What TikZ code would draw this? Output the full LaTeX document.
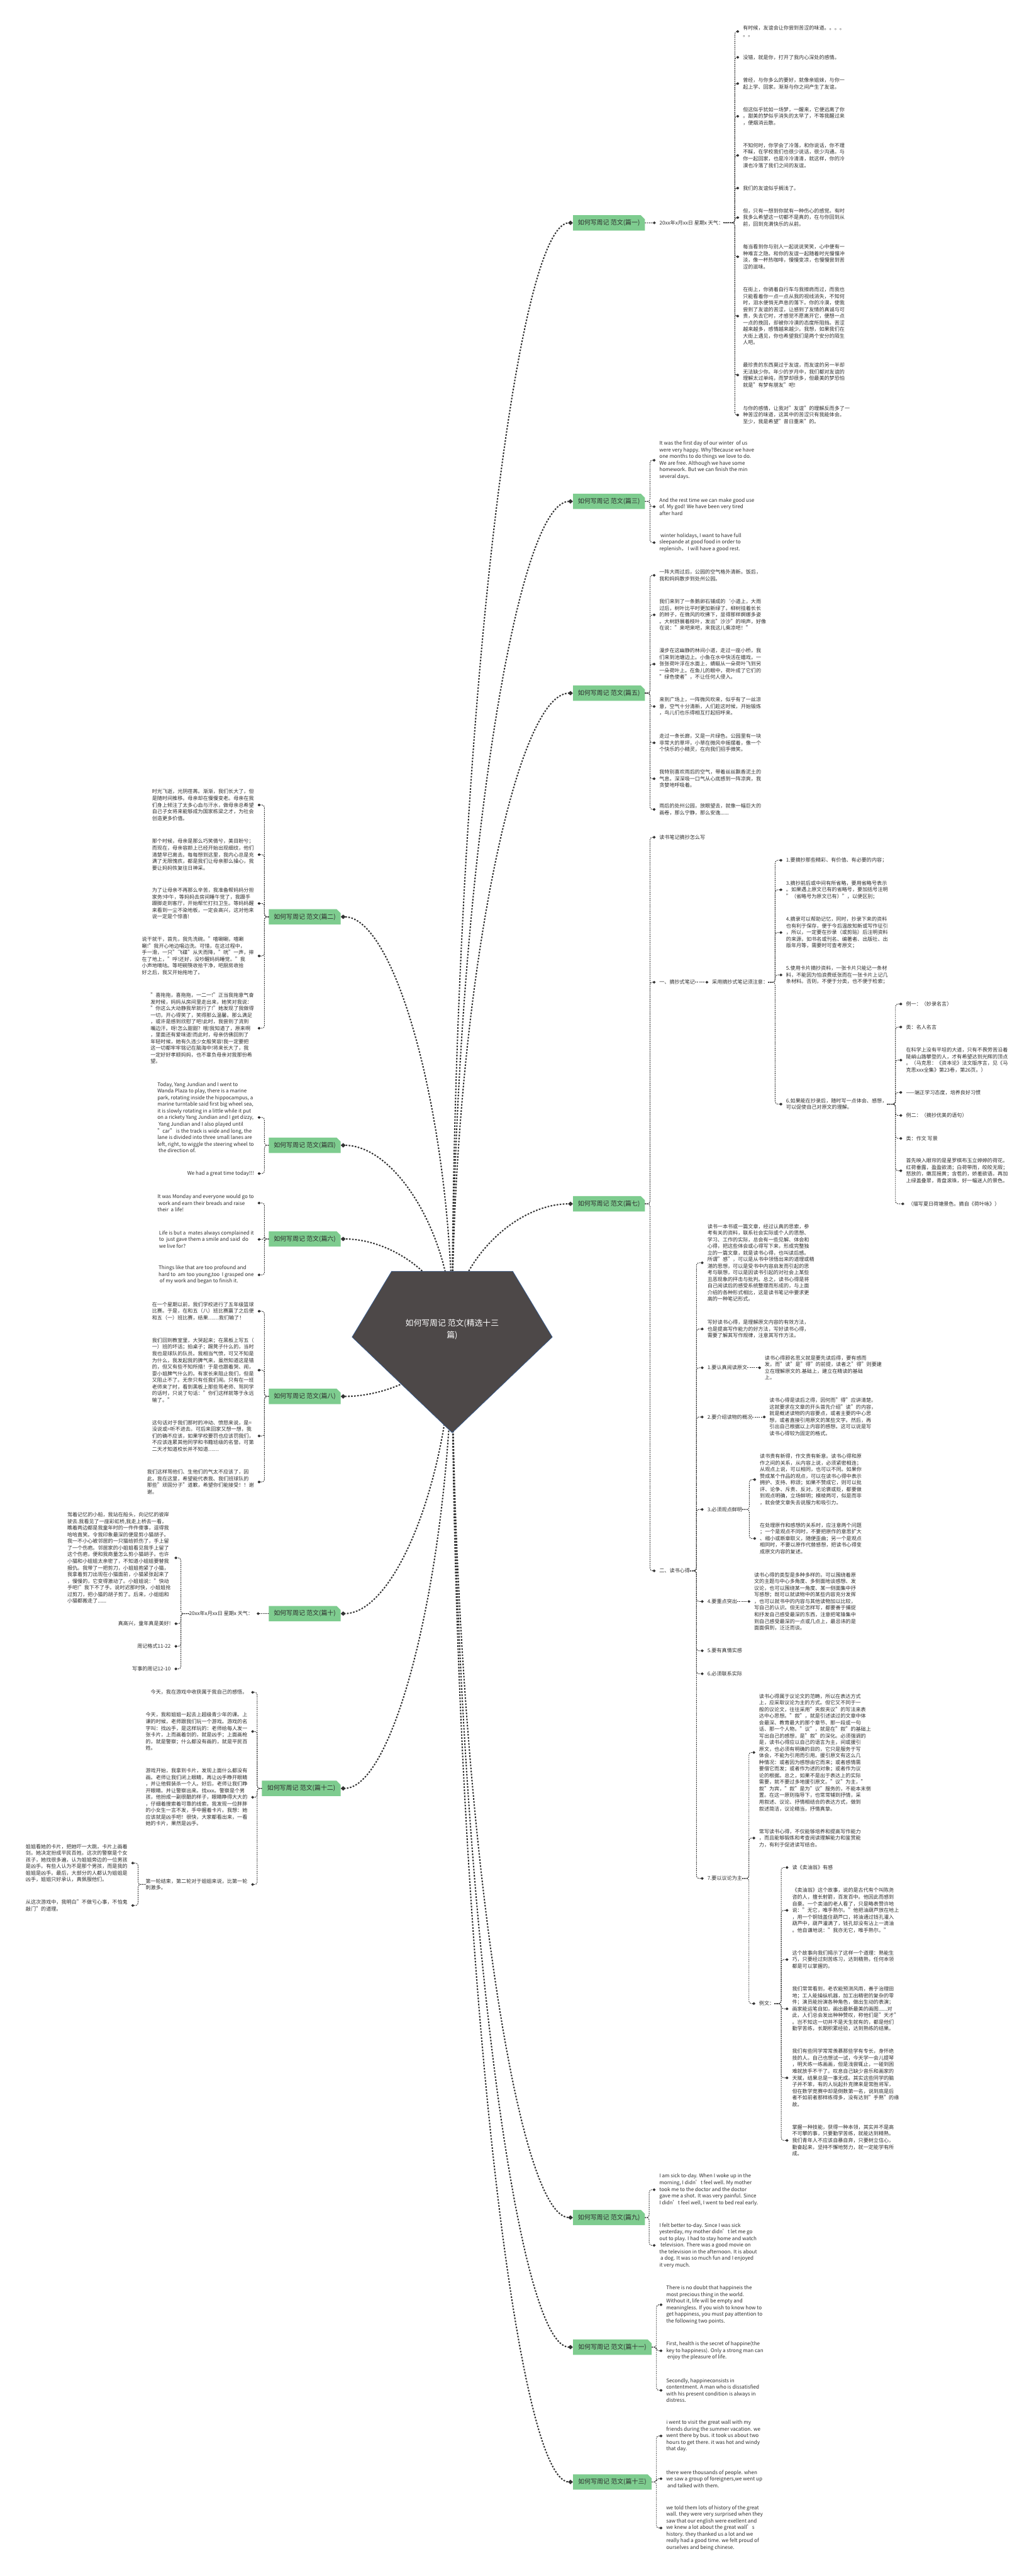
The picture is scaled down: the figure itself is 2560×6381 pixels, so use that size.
\documentclass[tikz,border=0pt]{standalone}
\usepackage{fontspec}
\setmainfont{Noto Sans CJK SC}
\usetikzlibrary{arrows.meta,positioning,shapes.misc,backgrounds}
\definecolor{brgreen}{RGB}{126,204,143}
\definecolor{rootfill}{RGB}{77,72,72}
\definecolor{rootbdr}{RGB}{50,92,150}
\definecolor{inkclr}{RGB}{45,45,45}
\definecolor{linkclr}{RGB}{50,50,50}
\tikzset{
  %% centre title text
  roottxt/.style={text=white,font=\fontsize{20}{29}\selectfont,align=center,inner sep=0pt},
  %% green branch box with cut corner
  brbox/.style={chamfered rectangle,chamfered rectangle corners=north east,
    chamfered rectangle sep=5pt,fill=brgreen,minimum width=178pt,minimum height=38pt,
    font=\fontsize{15.5}{18}\selectfont,text=inkclr,inner xsep=6pt,inner ysep=4pt},
  widebox/.style={brbox,minimum width=195pt},
  %% leaf text (right / left of its parent)
  lf/.style={anchor=west,align=left,font=\fontsize{12.6}{16.4}\selectfont,text=inkclr,inner sep=0pt},
  lfl/.style={lf,anchor=east},
  %% connectors
  limb/.style={-{Diamond[length=12pt,width=11pt]},line width=3.2pt,color=linkclr,
    dash pattern=on 4pt off 3.6pt},
  twig/.style={-{Diamond[length=7.5pt,width=7pt]},line width=1.5pt,color=linkclr,
    dash pattern=on 3pt off 2.2pt,rounded corners=6pt,shorten >=9pt},
}
\begin{document}
\begin{tikzpicture}[x=1pt,y=-1pt]
  \useasboundingbox (0,0) rectangle (2560,6381);

  %% centre
  \node[roottxt] (root) at (1120,3293) {如何写周记 范文(精选十三\\篇)};

  %% ── branch boxes ──────────────────────────────────────────────
  \node[brbox,anchor=west] (p1)  at (1419,552)  {如何写周记 范文(篇一)};
  \node[brbox,anchor=west] (p3)  at (1419,1242) {如何写周记 范文(篇三)};
  \node[brbox,anchor=west] (p5)  at (1419,1717) {如何写周记 范文(篇五)};
  \node[brbox,anchor=west] (p7)  at (1419,2982) {如何写周记 范文(篇七)};
  \node[brbox,anchor=west] (p9)  at (1419,5493) {如何写周记 范文(篇九)};
  \node[widebox,anchor=west] (p11) at (1419,5814) {如何写周记 范文(篇十一)};
  \node[widebox,anchor=west] (p13) at (1419,6148) {如何写周记 范文(篇十三)};

  \node[brbox,anchor=east] (p2)  at (844,2271) {如何写周记 范文(篇二)};
  \node[brbox,anchor=east] (p4)  at (844,2837) {如何写周记 范文(篇四)};
  \node[brbox,anchor=east] (p6)  at (844,3069) {如何写周记 范文(篇六)};
  \node[brbox,anchor=east] (p8)  at (844,3459) {如何写周记 范文(篇八)};
  \node[brbox,anchor=east] (p10) at (844,3997) {如何写周记 范文(篇十)};
  \node[widebox,anchor=east] (p12) at (844,4430) {如何写周记 范文(篇十二)};

  %% ── 篇一 ──
  \node[lf,right=36pt of p1] (p1d) {20xx年x月xx日 星期x 天气：};
  \coordinate (j1) at (1820,552);
  \node[lf] (p1x1) at (1840,78) {有时候，友谊会让你尝到苦涩的味道。。。。\\。。};
  \node[lf] (p1x2) at (1840,142) {没错，就是你，打开了我内心深处的感情。};
  \node[lf] (p1x3) at (1840,207) {曾经，与你多么的要好，就像亲姐妹，与你一\\起上学、回家。渐渐与你之间产生了友谊。};
  \node[lf] (p1x4) at (1840,288) {但这似乎犹如一场梦，一醒来，它便远离了你\\。甜美的梦似乎消失的太早了，不等我醒过来\\，便烟消云散。};
  \node[lf] (p1x5) at (1840,385) {不知何时，你学会了冷落，和你说话，你不理\\不睬，在学校我们也很少说话，很少沟通。与\\你一起回家，也是冷冷清清，就这样，你的冷\\漠也冷落了我们之间的友谊。};
  \node[lf] (p1x6) at (1840,466) {我们的友谊似乎搁浅了。};
  \node[lf] (p1x7) at (1840,539) {但，只有一想到你就有一种伤心的感觉。有时\\我多么希望这一切都不是真的，在与你回到从\\前，回到充满快乐的从前。};
  \node[lf] (p1x8) at (1840,636) {每当看到你与别人一起说说笑笑，心中便有一\\种难言之隐。和你的友谊一起随着时光慢慢冲\\淡，像一杯热咖啡，慢慢变凉，也慢慢尝到苦\\涩的滋味。};
  \node[lf] (p1x9) at (1840,783) {在街上，你骑着自行车与我擦肩而过，而我也\\只能看着你一点一点从我的视线消失，不知何\\时，泪水便悄无声息的落下。你的冷漠，使我\\尝到了友谊的苦涩，让感到了友情的真诚与可\\贵，失去它时，才感觉不愿离开它，便想一点\\一点的挽回，却被你冷漠的态度所阻挡。苦涩\\越来越多，感情越来越少。我想，如果我们在\\大街上遇见，你也希望我们是两个安分的陌生\\人吧。};
  \node[lf] (p1x10) at (1840,929) {最珍贵的东西莫过于友谊，而友谊的另一半却\\无法缺少你。年少的岁月中，我们都对友谊的\\理解太过单纯，而梦却很多，但最美的梦恐怕\\就是"有梦有朋友"吧!};
  \node[lf] (p1x11) at (1840,1028) {与你的感情，让我对"友谊"的理解反而多了一\\种苦涩的味道，这其中的苦涩只有我能体会。\\至少，我是希望"昔日重来"的。};

  %% ── 篇三 ──
  \coordinate (j3) at (1610,1242);
  \node[lf] (p3x1) at (1633,1140) {It was the first day of our winter\ \ of us\\were very happy. Why?Because we have\\one months to do things we love to do.\\We are free. Although we have some\\homework. But we can finish the min\\several days.};
  \node[lf] (p3x2) at (1633,1255) {And the rest time we can make good use\\of. My god! We have been very tired\\after hard};
  \node[lf] (p3x3) at (1633,1344) {\ winter holidays, I want to have full\\sleepande at good food in order to\\replenish， I will have a good rest.};

  %% ── 篇五 ──
  \coordinate (j5) at (1610,1717);
  \node[lf] (p5x1) at (1633,1425) {一阵大雨过后，公园的空气格外清新。饭后，\\我和妈妈散步到处州公园。};
  \node[lf] (p5x2) at (1633,1523) {我们来到了一条鹅卵石铺成的`小道上，大雨\\过后，树叶比平时更加新绿了。柳树挂着长长\\的辫子，在微风的吹拂下，显得那样婀娜多姿\\。大树舒展着枝叶，发出"沙沙"的响声，好像\\在说："来吧来吧，来我这儿乘凉吧！"};
  \node[lf] (p5x3) at (1633,1645) {漫步在这幽静的林间小道，走过一座小桥，我\\们来到池塘边上。小鱼在水中快活在嬉戏，一\\张张荷叶浮在水面上，蜻蜓从一朵荷叶飞到另\\一朵荷叶上。在鱼儿的眼中，荷叶成了它们的\\"绿色使者"，不让任何人侵入。};
  \node[lf] (p5x4) at (1633,1750) {来到广场上，一阵微风吹来，似乎有了一丝凉\\意，空气十分清新，人们趁这时候，开始锻炼\\，鸟儿们也乐得相互打起招呼来。};
  \node[lf] (p5x5) at (1633,1840) {走过一条长廊，又是一片绿色。公园里有一块\\非常大的草坪，小草在微风中摇摆着，像一个\\个快乐的小精灵，在向我们招手微笑。};
  \node[lf] (p5x6) at (1633,1929) {我特别喜欢雨后的空气，带着丝丝飘香泥土的\\气息。深深吸一口气从心底感到一阵凉爽，我\\贪婪地呼吸着。};
  \node[lf] (p5x7) at (1633,2005) {雨后的处州公园，放眼望去，就像一幅巨大的\\画卷，那么宁静，那么安逸......};

  %% ── 篇七 ──
  \coordinate (j7) at (1610,2982);
  \node[lf] (p7a) at (1633,2074) {读书笔记摘抄怎么写};
  \node[lf] (p7b) at (1633,2433) {一、摘抄式笔记};
  \node[lf] (p7c) at (1633,3891) {二、读书心得};

  \node[lf,right=42pt of p7b] (p7note) {采用摘抄式笔记须注意：};
  \coordinate (j7b) at (1920,2433);
  \node[lf] (p7n1) at (1947,2131) {1.要摘抄那些精彩、有价值、有必要的内容；};
  \node[lf] (p7n2) at (1947,2204) {3.摘抄前后或中间有所省略，要用省略号表示\\。如果遇上原文已有的省略号，要加括号注明\\"（省略号为原文已有）"，以便区别；};
  \node[lf] (p7n3) at (1947,2310) {4.摘录可以帮助记忆，同时，抄录下来的资料\\也有利于保存，便于今后温故知新或写作征引\\，所以，一定要在抄录（或剪贴）后注明资料\\的来源，如书名或刊名、编著者、出版社、出\\版年月等，需要时可查考原文；};
  \node[lf] (p7n4) at (1947,2415) {5.使用卡片摘抄资料，一张卡片只能记一条材\\料，不能因为怕浪费纸张而在一张卡片上记几\\条材料。否则，不便于分类，也不便于检索；};
  \node[lf] (p7n5) at (1947,2735) {6.如果能在抄录后，随时写一点体会、感想，\\可以促使自己对原文的理解。};

  \coordinate (j7n) at (2218,2735);
  \node[lf] (p7e1) at (2244,2487) {例一：（妙录名言）};
  \node[lf] (p7e2) at (2244,2544) {类：名人名言};
  \node[lf] (p7e3) at (2244,2626) {在科学上没有平坦的大道，只有不畏劳苦沿着\\陡峭山路攀登的人，才有希望达到光辉的顶点\\。（马克思：《资本论》法文版序言，见《马\\克思xxx全集》第23卷，第26页。）};
  \node[lf] (p7e4) at (2244,2706) {——端正学习态度，培养良好习惯};
  \node[lf] (p7e5) at (2244,2763) {例二：（摘抄优美的语句）};
  \node[lf] (p7e6) at (2244,2820) {类：作文 写景};
  \node[lf] (p7e7) at (2244,2900) {首先映入眼帘的是星罗棋布玉立婷婷的荷花。\\红荷垂露，盈盈欲滴；白荷带雨，皎皎无瑕；\\怒放的，嫩蕊摇黄；含苞的，娇羞欲语。再加\\上绿盖叠翠，青盘滚珠，好一幅迷人的景色。};
  \node[lf] (p7e8) at (2249,2982) {（描写夏日荷塘景色。摘自《荷叶咏》）};

  \coordinate (j7c) at (1725,3891);
  \node[lf] (p7r1) at (1752,3128) {读书一本书或一篇文章，经过认真的思索，参\\考有关的资料，联系社会实际或个人的思想、\\学习、工作的实际，总会有一些见解、体会和\\心得，把这些体会或心得写下来，形成完整独\\立的一篇文章，就是读书心得，也叫读后感。\\所谓"感"，可以是从书中领悟出来的道理或精\\湛的思想，可以是受书中内容启发而引起的思\\考与联想，可以是因读书引起的对社会上某些\\丑恶现象的抨击与批判。总之，读书心得是将\\自己阅读后的感受系统整理而形成的，与上面\\介绍的各种形式相比，这是读书笔记中要求更\\高的一种笔记形式。};
  \node[lf] (p7r2) at (1752,3292) {写好读书心得，是理解原文内容的有效方法，\\也是提高写作能力的好方法，写好读书心得，\\需要了解其写作规律，注意其写作方法。};
  \node[lf] (p7r3) at (1752,3388) {1.要认真阅读原文};
  \node[lf] (p7r4) at (1752,3510) {2.要介绍读物的概况};
  \node[lf] (p7r5) at (1752,3739) {3.必须观点鲜明};
  \node[lf] (p7r6) at (1752,3967) {4.要重点突出};
  \node[lf] (p7r7) at (1752,4089) {5.要有真情实感};
  \node[lf] (p7r8) at (1752,4146) {6.必须联系实际};
  \node[lf] (p7r9) at (1752,4653) {7.要以议论为主};

  \node[lf,right=43pt of p7r3] (p7r3t) {读书心得顾名思义就是要先读后得，要有感而\\发。而"读"是"得"的前提，读者之"得"则要建\\立在理解原文的.基础上，建立在精读的基础\\上。};
  \node[lf,right=42pt of p7r4] (p7r4t) {读书心得是读后之得，因何而"得"应讲清楚。\\这就要求在文章的开头首先介绍"读"的内容，\\就是概述读物的内容要点，或者主要的中心思\\想，或者直接引用原文的某些文字。然后，再\\引出自己根据以上内容的感想。这可以说是写\\读书心得较为固定的格式。};
  \node[lf,right=42pt of p7r6] (p7r6t) {读书心得的类型是多种多样的。可以围绕着原\\文的主题与中心多角度、多侧面地谈感想、发\\议论，也可以围绕某一角度、某一侧面集中抒\\写感想；既可以就读物中的某些内容充分发挥\\，也可以就书中的内容与其他读物加以比较，\\写自己的认识。但无论怎样写，都要善于捕捉\\和抒发自己感受最深的东西，注意把笔锋集中\\到自己感受最深的一点或几点上，最忌讳的是\\面面俱到，泛泛而谈。};

  \coordinate (j7s) at (1856,3739);
  \node[lf] (p7s1) at (1882,3665) {读书贵有新得，作文贵有新意。读书心得和原\\作之间的关系，从内容上说，必须紧密相连；\\从观点上说，可以相同，也可以不同。如果你\\赞成某个作品的观点，可以在读书心得中表示\\拥护、支持、称颂；如果不赞成它，则可以批\\评、论争、斥责、反对。无论褒或贬，都要做\\到观点明确，立场鲜明；模棱两可，似是而非\\，就会使文章失去说服力和吸引力。};
  \node[lf] (p7s2) at (1882,3811) {在处理原作和感想的关系时，应注意两个问题\\；一个是观点不同时，不要把原作的意思扩大\\、缩小或断章取义，随便歪曲；另一个是观点\\相同时，不要以原作代替感想，把读书心得变\\成原文内容的复述。};

  \coordinate (j7m) at (1855,4653);
  \node[lf] (p7m1) at (1880,4341) {读书心得属于议论文的范畴，所以在表达方式\\上，应采取议论为主的方式。但它又不同于一\\般的议论文，往往采用"夹叙夹议"的写法来表\\达中心思想。"叙"，就是引述读过的文章中体\\会最深、教育最大的那个章节、那一段或一句\\话、那一个人物。"议"，就是在"叙"的基础上\\写出自己的感想，是"叙"的深化。必须强调的\\是，读书心得应以自己的语言为主，间或援引\\原文，也必须有明确的目的，它只是服务于写\\体会，不能为引用而引用。援引原文有这么几\\种情况：或者因为感想由它而来；或者感情需\\要借它而发；或者作为述的对象；或者作为议\\论的根据。总之，如果不是出于表达上的实际\\需要，就不要过多地援引原文。"议"为主，"\\叙"为宾，"叙"是为"议"服务的，不能本末倒\\置。在这一原则指导下，也常常辅到抒情，采\\用叙述、议论、抒情相结合的表达方式，做到\\叙述简洁，议论精当，抒情真挚。};
  \node[lf] (p7m2) at (1880,4553) {常写读书心得，不仅能够培养和提高写作能力\\，而且能够锻炼和考查阅读理解能力和鉴赏能\\力，有利于促进读写结合。};
  \node[lf] (p7m3) at (1880,4963) {例文：};

  \coordinate (j7w) at (1935,4963);
  \node[lf] (p7w1) at (1962,4626) {读《卖油翁》有感};
  \node[lf] (p7w2) at (1962,4732) {《卖油翁》这个故事，说的是古代有个叫陈尧\\咨的人，擅长射箭，百发百中。他因此而感到\\自豪。一个卖油的老人看了，只是略表赞许地\\说："无它，唯手熟尔。"他把油葫芦放在地上\\，用一个铜钱盖住葫芦口，将油通过钱孔灌入\\葫芦中，葫芦灌满了，钱孔却没有沾上一滴油\\。他自谦地说："我亦无它，唯手熟尔。"};
  \node[lf] (p7w3) at (1962,4854) {这个故事向我们揭示了这样一个道理：熟能生\\巧，只要经过刻苦练习，达到精熟，任何本领\\都是可以掌握的。};
  \node[lf] (p7w4) at (1962,4976) {我们常常看到，老农能预测风雨，善于治理田\\地；工人能操纵机器，加工出精密的复杂的零\\件；演员能扮演各种角色，做出生动的表演；\\画家能运笔自如，画出最新最美的画图......对\\此，人们总会发出种种赞叹，称他们是"天才"\\。岂不知这一切并不是天生就有的，都是他们\\勤学苦练，长期积累经验，达到熟练的结果。};
  \node[lf] (p7w5) at (1962,5147) {我们有些同学常常羡慕那些学有专长，身怀绝\\技的人。自己也想试一试，今天学一会儿提琴\\，明天练一练画画，但是浅尝辄止，一碰到困\\难就放手不干了。叹息自己缺少音乐和画家的\\天赋，结果总是一事无成。其实这些同学的脑\\子并不笨，有的人玩起扑克牌来是常胜将军，\\但在数学竞赛中却是倒数第一名，说到底是后\\者不如前者那样练得多，没有达到"手熟"的缘\\故。};
  \node[lf] (p7w6) at (1962,5302) {掌握一种技能，获得一种本领，其实并不是高\\不可攀的事，只要勤学苦练，就能达到精熟。\\我们青年人不应该自暴自弃，只要树立信心，\\勤奋起来，坚持不懈地努力，就一定能学有所\\成。};

  %% ── 篇九 / 篇十一 / 篇十三 ──
  \coordinate (j9) at (1608,5493);
  \node[lf] (p9x1) at (1633,5424) {I am sick to-day. When I woke up in the\\morning, I didn't feel well. My mother\\took me to the doctor and the doctor\\gave me a shot. It was very painful. Since\\I didn't feel well, I went to bed real early.};
  \node[lf] (p9x2) at (1633,5562) {I felt better to-day. Since I was sick\\yesterday, my mother didn't let me go\\out to play. I had to stay home and watch\\\ television. There was a good movie on\\the television in the afternoon. It is about\\\ a dog. It was so much fun and I enjoyed\\it very much.};

  \coordinate (j11) at (1626,5814);
  \node[lf] (p11x1) at (1650,5709) {There is no doubt that happineis the\\most precious thing in the world.\\Without it, life will be empty and\\meaningless. If you wish to know how to\\get happiness, you must pay attention to\\the following two points.};
  \node[lf] (p11x2) at (1650,5823) {First, health is the secret of happine(the\\key to happiness). Only a strong man can\\\ enjoy the pleasure of life.};
  \node[lf] (p11x3) at (1650,5921) {Secondly, happineconsists in\\contentment. A man who is dissatisfied\\with his present condition is always in\\distress.};

  \coordinate (j13) at (1626,6148);
  \node[lf] (p13x1) at (1650,6034) {i went to visit the great wall with my\\friends during the summer vacation. we\\went there by bus. it took us about two\\hours to get there. it was hot and windy\\that day.};
  \node[lf] (p13x2) at (1650,6140) {there were thousands of people. when\\we saw a group of foreigners,we went up\\\ and talked with them.};
  \node[lf] (p13x3) at (1650,6262) {we told them lots of history of the great\\wall. they were very surprised when they\\saw that our english were exellent and\\we knew a lot about the great wall's\\history. they thanked us a lot and we\\really had a good time. we felt proud of\\ourselves and being chinese.};

  %% ── 篇二 ──
  \coordinate (j2) at (655,2271);
  \node[lfl] (p2x1) at (629,1994) {时光飞逝，光阴荏苒。渐渐，我们长大了，但\\是随时间推移。母亲却在慢慢变老。母亲在我\\们身上倾注了太多心血与汗水，做母亲总希望\\自己子女将来能够成为国家栋梁之才，为社会\\创造更多价值。};
  \node[lfl] (p2x2) at (629,2117) {那个时候，母亲是那么巧笑倩兮，美目盼兮；\\而现在，母亲容颜上已经开始出现细纹，他们\\清楚早已离去。每每想到这里，我内心总是充\\满了无限愧疚，都是我们让母亲那么操心，我\\要让妈妈恢复往日神采。};
  \node[lfl] (p2x3) at (629,2238) {为了让母亲不再那么辛苦，我准备帮妈妈分担\\家务!中午，等妈妈去房间睡午觉了，我蹑手\\蹑脚走到客厅，开始帮忙打扫卫生。等妈妈醒\\来看到一尘不染地板，一定会高兴，这对他来\\说一定是个惊喜!};
  \node[lfl] (p2x4) at (629,2368) {说干就干，首先，我先洗碗。"嘻唰唰，嘻唰\\唰!"我开心地边唱边洗。可惜，在这过程中，\\手一滑，一只"飞碟"从天而降，"咣"一声，摔\\在了地上，"呼!还好，没吵醒妈妈睡觉。"我\\小声地嘀咕。等吧碗筷收拾干净，吧厨房收拾\\好之后，我又开始拖地了。};
  \node[lfl] (p2x5) at (629,2547) {"喜拖拖，喜拖拖，一二一!"正当我拖意气奋\\发时候，妈妈从房间里走出来，她笑对我说：\\"你这么大动静我早就行了!"她发现了我做得\\一切，开心得笑了，笑得那么温馨。那么满足\\，或许是感到欣慰了吧!此时，我尝到了流到\\嘴边汗。呀!怎么甜甜？哦!我知道了，原来啊\\，里面还有爱味道!而此时，母亲仿佛回到了\\年轻时候，她有久违少女般笑容!我一定要把\\这一切都牢牢铭记在脑海中!将来长大了，我\\一定好好孝顺妈妈，也不辜负母亲对我那份希\\望。};

  %% ── 篇四 ──
  \coordinate (j4) at (655,2837);
  \node[lfl] (p4x1) at (629,2768) {Today, Yang Jundian and I went to\\Wanda Plaza to play, there is a marine\\park, rotating inside the hippocampus, a\\marine turntable said first big wheel sea,\\it is slowly rotating in a little while it put\\on a rickety Yang Jundian and I get dizzy,\\\ Yang Jundian and I also played until\\"car" is the track is wide and long, the\\lane is divided into three small lanes are\\left, right, to wiggle the steering wheel to\\\ the direction of.};
  \node[lfl] (p4x2) at (629,2907) {We had a great time today!!!};

  %% ── 篇六 ──
  \coordinate (j6) at (655,3069);
  \node[lfl] (p6x1) at (629,2980) {It was Monday and everyone would go to\\\ work and earn their breads and raise\\their\ \ a life!};
  \node[lfl] (p6x2) at (629,3070) {Life is but a\ \ mates always complained it\\to\ \ just gave them a smile and said\ \ do\\we live for?};
  \node[lfl] (p6x3) at (629,3158) {Things like that are too profound and\\hard to\ \ am too young,too\ \ I grasped one\\\ of my work and began to finish it.};

  %% ── 篇八 ──
  \coordinate (j8) at (655,3459);
  \node[lfl] (p8x1) at (629,3248) {在一个星期以前，我们学校进行了五年级篮球\\比赛。于是，在和五（八）班比赛赢了之后便\\和五（一）班比赛，结果……我们输了！};
  \node[lfl] (p8x2) at (629,3394) {我们回到教室里，大哭起来；在黑板上写五（\\一）班的坏话；拍桌子；踢凳子什么的，当时\\我也是球队的队员。我相当气愤，可又不知是\\为什么，我发起我的脾气来，虽然知道这是错\\的，但又有些不知所措！于是也跟着哭、闹，\\耍小姐脾气什么的。有家长来阻止我们，但是\\又阻止不了。无奈只有任我们闹。只有在一班\\老师来了时，看到黑板上那些骂老师、骂同学\\的话时，只说了句话："你们这样就等于永远\\输了。"};
  \node[lfl] (p8x3) at (629,3557) {这句话对于我们那时的冲动、愤怒来说，是=\\没说或=听不进去。可后来回家又想一想，我\\们的确不应该，如果学校要罚也应该罚我们，\\不应该连累其他同学和书籍班级的名誉。可第\\二天才知道校长并不知道……};
  \node[lfl] (p8x4) at (629,3671) {我们这样骂他们、生他们的气太不应该了，因\\此，我在这里，希望能代表我、我们班球队的\\那些"顽固分子"道歉，希望你们能接受！！谢\\谢。};

  %% ── 篇十 ──
  \node[lfl,left=39pt of p10] (p10d) {20xx年x月xx日 星期x 天气：};
  \coordinate (j10) at (448,3997);
  \node[lfl] (p10x1) at (423,3859) {驾着记忆的小船，我站在船头，向记忆的彼岸\\驶去.我看见了一座彩虹桥,我走上桥去一看，\\瞧着两边都是我童年时的一件件傻事，逗得我\\哈哈直笑。令我印象最深的便是剪小猫胡子。\\我一不小心被邻居的一只猫给抓伤了，手上留\\了一个伤疤。邻居家的小姐姐看见我手上留了\\这个伤疤，便和我商量怎么剪小猫胡子。也许\\小猫和小姐姐太亲密了，不知道小姐姐要替我\\报仇。我带了一把剪刀，小姐姐抱紧了小猫，\\我拿着剪刀出现在小猫面前，小猫紧张起来了\\，慢慢的，它变得激动了。小姐姐说："快动\\手吧!"我下不了手。说时迟那时快，小姐姐抢\\过剪刀，把小猫的胡子剪了。后来，小姐姐和\\小猫都搬走了......};
  \node[lfl] (p10x2) at (423,4022) {真高兴，童年真是美好!};
  \node[lfl] (p10x3) at (423,4078) {周记格式11-22};
  \node[lfl] (p10x4) at (423,4134) {写事的周记12-10};

  %% ── 篇十二 ──
  \coordinate (j12) at (637,4430);
  \node[lfl] (p12x1) at (613,4192) {今天，我在游戏中收获属于我自己的感悟。};
  \node[lfl] (p12x2) at (613,4289) {今天，我和姐姐一起去上超级青少年的课。上\\课的时候，老师跟我们玩一个游戏。游戏的名\\字叫：找凶手，是这样玩的：老师给每人发一\\张卡片，上而画着剑的，就是凶手；上面画枪\\的，就是警察；什么都没有画的，就是平民百\\姓。};
  \node[lfl] (p12x3) at (613,4452) {游戏开始，我拿到卡片，发现上面什么都没有\\画。老师让我们闭上眼睛，再让凶手睁开眼睛\\，并让他假装杀一个人。好后，老师让我们睁\\开眼睛。并让警察出来。找xxx。警察是个男\\孩，他扮成一副很酷的样子，眼睛睁得大大的\\，仔细着搜索着可靠的线索。我发现一位胖胖\\的小女生一言不发，手中握着卡片。我想：她\\应该就是凶手吧！很快，大家都看出来，一看\\她的卡片，果然是凶手。};
  \node[lfl] (p12x4) at (613,4668) {第一轮结束，第二轮对于姐姐来说，比第一轮\\刺激多。};
  \coordinate (j12b) at (342,4668);
  \node[lfl] (p12y1) at (316,4615) {姐姐看她的卡片，把她吓一大跳，卡片上画着\\剑。她决定扮成平民百姓。这次的警察是个女\\孩子，她找很多遍，认为姐姐旁边的一位男孩\\是凶手。有些人认为不是那个男孩，而是我的\\姐姐是凶手。最后，大部分的人都认为姐姐是\\凶手，姐姐只好承认，真佩服他们。};
  \node[lfl] (p12y2) at (316,4720) {从这次游戏中，我明白"不做亏心事，不怕鬼\\敲门"的道理。};

  %% ── twigs ─────────────────────────────────────────────────────
  \draw[twig] (p1) -- (p1d);
  \foreach \i in {1,...,11} \draw[twig] (p1d.east) -- (j1) |- (p1x\i.west);
  \foreach \i in {1,...,3} \draw[twig] (p3.east) -- (j3) |- (p3x\i.west);
  \foreach \i in {1,...,7} \draw[twig] (p5.east) -- (j5) |- (p5x\i.west);
  \foreach \c in {p7a,p7b,p7c} \draw[twig] (p7.east) -- (j7) |- (\c.west);
  \draw[twig] (p7b) -- (p7note);
  \foreach \i in {1,...,5} \draw[twig] (p7note.east) -- (j7b) |- (p7n\i.west);
  \foreach \i in {1,...,8} \draw[twig] (p7n5.east) -- (j7n) |- (p7e\i.west);
  \foreach \i in {1,...,9} \draw[twig] (p7c.east) -- (j7c) |- (p7r\i.west);
  \draw[twig] (p7r3) -- (p7r3t);
  \draw[twig] (p7r4) -- (p7r4t);
  \draw[twig] (p7r6) -- (p7r6t);
  \foreach \i in {1,2} \draw[twig] (p7r5.east) -- (j7s) |- (p7s\i.west);
  \foreach \i in {1,...,3} \draw[twig] (p7r9.east) -- (j7m) |- (p7m\i.west);
  \foreach \i in {1,...,6} \draw[twig] (p7m3.east) -- (j7w) |- (p7w\i.west);
  \foreach \i in {1,2} \draw[twig] (p9.east) -- (j9) |- (p9x\i.west);
  \foreach \i in {1,...,3} \draw[twig] (p11.east) -- (j11) |- (p11x\i.west);
  \foreach \i in {1,...,3} \draw[twig] (p13.east) -- (j13) |- (p13x\i.west);

  \foreach \i in {1,...,5} \draw[twig] (p2.west) -- (j2) |- (p2x\i.east);
  \foreach \i in {1,2} \draw[twig] (p4.west) -- (j4) |- (p4x\i.east);
  \foreach \i in {1,...,3} \draw[twig] (p6.west) -- (j6) |- (p6x\i.east);
  \foreach \i in {1,...,4} \draw[twig] (p8.west) -- (j8) |- (p8x\i.east);
  \draw[twig] (p10) -- (p10d);
  \foreach \i in {1,...,4} \draw[twig] (p10d.west) -- (j10) |- (p10x\i.east);
  \foreach \i in {1,...,4} \draw[twig] (p12.west) -- (j12) |- (p12x\i.east);
  \foreach \i in {1,2} \draw[twig] (p12x4.west) -- (j12b) |- (p12y\i.east);

  %% ── limbs from the centre, under the pentagon ────────────────
  \begin{scope}[on background layer]
    \fill[white] (0,0) rectangle (2560,6381);
    \foreach \n/\y in {p1/552,p3/1242,p5/1717,p7/2982,p9/5493,p11/5814,p13/6148}
      \draw[limb] (root.center) .. controls (1120,{(3293+\y)/2}) and (1270,\y) .. (\n.west);
    \foreach \n/\y in {p2/2271,p4/2837,p6/3069,p8/3459,p10/3997,p12/4430}
      \draw[limb] (root.center) .. controls (1120,{(3293+\y)/2}) and (982,\y) .. (\n.east);
    %% centre pentagon
    \filldraw[fill=rootfill,draw=rootbdr,line width=1pt]
      (970,3149) -- (1270,3149) -- (1368,3312) -- (1120,3549) -- (872,3312) -- cycle;
  \end{scope}

\end{tikzpicture}
\end{document}
